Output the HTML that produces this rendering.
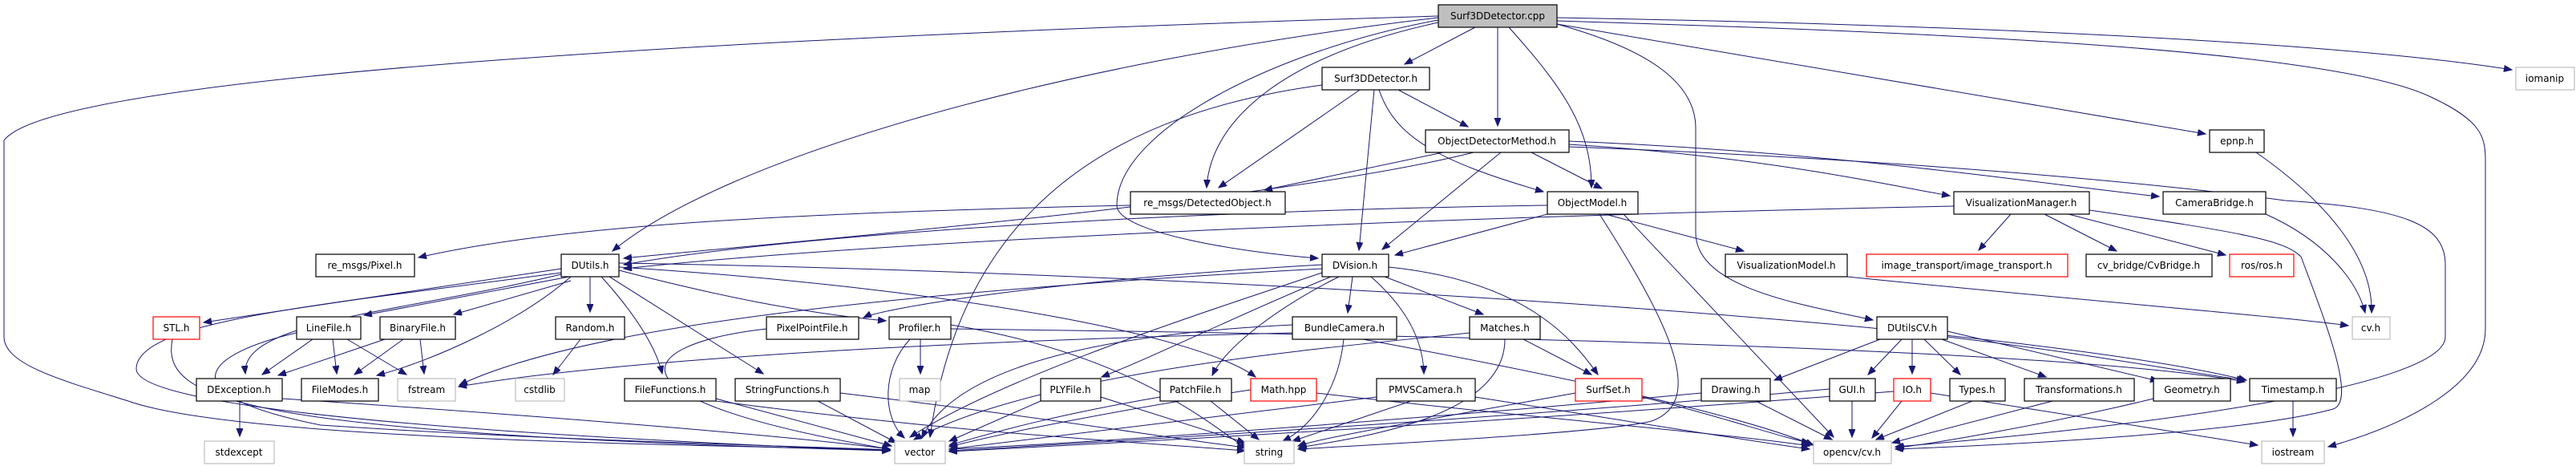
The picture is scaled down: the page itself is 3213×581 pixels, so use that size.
<!DOCTYPE html>
<html><head><meta charset="utf-8"><style>
html,body{margin:0;padding:0;background:#fff;}
svg{display:block;}
text{font-family:"DejaVu Sans","Liberation Sans",sans-serif;font-size:12px;text-anchor:middle;fill:#000;}
.n{fill:#fff;stroke:#000;stroke-width:1.2;}
.g{fill:#fff;stroke:#bfbfbf;stroke-width:1.2;}
.r{fill:#fff;stroke:#ff0000;stroke-width:1.2;}
.e path{fill:none;stroke:#191970;stroke-width:1;marker-end:url(#a);}
</style></head><body>
<svg width="3213" height="581" viewBox="0 0 3213 581" xmlns="http://www.w3.org/2000/svg">
<defs><marker id="a" markerUnits="userSpaceOnUse" markerWidth="12" markerHeight="10" refX="10" refY="4" orient="auto"><path d="M0,0 L10,4 L0,8 z" fill="#191970" stroke="#191970"/></marker></defs>
<g class="e">
<path d="M1840,34 L1752,80"/>
<path d="M1868,34 L1868,157"/>
<path d="M1882,34 C1950,110 1985,160 1985,234"/>
<path d="M1794,28 C1600,70 1510,150 1505,234"/>
<path d="M1794,25 C1600,60 1393,160 1393,256 C1393,290 1550,315 1644,322"/>
<path d="M1794,22 C1300,80 900,200 764,313"/>
<path d="M1794,20 C800,50 60,100 5,175 L5,420 C5,455 80,475 160,500 C300,550 900,555 1110,561"/>
<path d="M1942,30 C2050,60 2115,100 2115,160 L2115,290 C2115,360 2250,380 2336,399"/>
<path d="M1942,30 C2300,90 2600,140 2751,167"/>
<path d="M1942,22 C2400,30 2900,50 3133,87"/>
<path d="M1942,26 C2400,40 2900,60 3030,120 C3095,150 3100,170 3100,200 L3100,410 C3100,480 3000,530 2904,557"/>
<path d="M1696,112 L1520,234"/>
<path d="M1714,112 L1695,312"/>
<path d="M1744,112 L1831,158"/>
<path d="M1720,112 C1740,170 1790,200 1925,239"/>
<path d="M1649,106 C1400,140 1200,250 1160,545"/>
<path d="M1800,190 L1577,237"/>
<path d="M1838,190 C1600,250 1000,300 778,322"/>
<path d="M1872,190 L1724,311"/>
<path d="M1910,190 L1998,235"/>
<path d="M1957,180 C2200,195 2350,230 2432,244"/>
<path d="M1957,176 C2300,190 2550,230 2693,245"/>
<path d="M1957,183 C2400,200 2700,230 2850,250 C3000,260 3050,280 3050,330 L3050,420 C3050,480 2700,530 2364,557"/>
<path d="M1930,267 L1740,318"/>
<path d="M1930,256 C1500,262 1000,290 778,330"/>
<path d="M2002,267 L2175,313"/>
<path d="M1995,267 C2080,400 2130,500 2060,525 C2000,540 1700,555 1619,560"/>
<path d="M2025,267 L2287,545"/>
<path d="M1410,256 C1000,265 700,280 522,321"/>
<path d="M2508,267 L2468,312"/>
<path d="M2550,267 L2640,313"/>
<path d="M2580,267 L2776,318"/>
<path d="M2606,262 C2800,290 2850,300 2870,320 C2900,400 2940,500 2910,510 C2800,540 2500,555 2364,560"/>
<path d="M2437,257 C1800,270 1100,300 778,335"/>
<path d="M2304,345 C2600,375 2850,395 2929,406"/>
<path d="M2826,267 C2900,300 2940,350 2950,390"/>
<path d="M2814,190 C2900,250 2960,320 2958,390"/>
<path d="M700,335 L254,402"/>
<path d="M710,345 L454,393"/>
<path d="M712,350 L566,392"/>
<path d="M700,342 C500,390 300,400 306,466"/>
<path d="M712,345 C650,400 540,450 470,468"/>
<path d="M736,345 L736,389"/>
<path d="M750,345 C800,400 820,440 826,466"/>
<path d="M760,345 L952,466"/>
<path d="M772,337 C900,370 1000,390 1105,400"/>
<path d="M772,333 C1200,360 1500,420 1566,470"/>
<path d="M772,328 C1500,340 2500,400 2802,474"/>
<path d="M700,340 C400,380 170,400 170,460 C170,520 800,550 1110,562"/>
<path d="M215,423 C200,500 300,540 1110,562"/>
<path d="M390,423 L327,467"/>
<path d="M415,423 L420,466"/>
<path d="M433,423 L507,467"/>
<path d="M370,415 C260,440 200,490 400,530 C700,550 1000,556 1110,561"/>
<path d="M480,423 L347,468"/>
<path d="M503,423 L442,467"/>
<path d="M524,423 L529,466"/>
<path d="M724,423 L690,467"/>
<path d="M299,500 L299,544"/>
<path d="M352,497 C700,520 1000,545 1110,560"/>
<path d="M956,410 C780,430 750,500 1110,560"/>
<path d="M1148,423 L1148,466"/>
<path d="M1135,423 C1100,460 1100,520 1128,546"/>
<path d="M1186,405 C1400,440 1500,520 1555,560"/>
<path d="M1186,410 C2000,420 2600,440 2800,476"/>
<path d="M893,497 L1112,556"/>
<path d="M893,500 C1200,540 1400,550 1553,562"/>
<path d="M1020,500 L1118,552"/>
<path d="M1048,490 C1300,520 1450,545 1553,558"/>
<path d="M1649,330 C1300,350 1100,385 1077,396"/>
<path d="M1687,345 L1681,390"/>
<path d="M1727,345 L1850,392"/>
<path d="M1710,345 C1750,380 1775,420 1776,466"/>
<path d="M1732,333 C1900,350 1960,420 1993,467"/>
<path d="M1660,345 C1550,390 1450,440 1374,470"/>
<path d="M1670,345 C1600,380 1530,430 1512,468"/>
<path d="M1649,340 C1500,390 1250,470 1135,545"/>
<path d="M1649,335 C1000,370 700,420 573,480"/>
<path d="M1612,405 C1300,420 1180,480 1150,546"/>
<path d="M1676,423 C1670,480 1640,530 1600,550"/>
<path d="M1700,423 C1900,460 2150,510 2262,555"/>
<path d="M1612,415 C1000,430 700,460 572,482"/>
<path d="M1833,415 C1700,430 1300,460 1140,548"/>
<path d="M1877,423 C1877,520 1700,545 1620,558"/>
<path d="M1900,423 L1985,467"/>
<path d="M2345,423 L2213,474"/>
<path d="M2372,423 L2330,467"/>
<path d="M2385,423 L2385,466"/>
<path d="M2400,423 L2445,467"/>
<path d="M2422,423 L2552,470"/>
<path d="M2429,413 L2692,475"/>
<path d="M2429,420 C2600,440 2700,460 2800,474"/>
<path d="M2190,500 L2285,548"/>
<path d="M2122,490 C1800,520 1400,550 1184,560"/>
<path d="M2310,500 L2310,545"/>
<path d="M2282,485 C1900,520 1400,550 1184,562"/>
<path d="M2372,500 L2335,546"/>
<path d="M2362,488 C1900,525 1400,552 1184,563"/>
<path d="M2408,490 C2600,520 2750,545 2816,555"/>
<path d="M2460,500 L2340,548"/>
<path d="M2560,500 L2360,552"/>
<path d="M2686,497 C2550,530 2400,555 2365,558"/>
<path d="M2860,500 L2860,544"/>
<path d="M1642,490 C1900,520 2150,540 2257,556"/>
<path d="M1560,486 C1400,510 1250,540 1184,557"/>
<path d="M1717,495 C1500,520 1300,545 1184,560"/>
<path d="M1760,500 L1612,550"/>
<path d="M1840,495 C2000,520 2150,545 2257,560"/>
<path d="M1965,490 C1800,520 1650,545 1619,556"/>
<path d="M2048,495 C2150,520 2220,545 2257,552"/>
<path d="M1298,500 L1184,550"/>
<path d="M1373,495 L1553,552"/>
<path d="M1447,495 C1300,520 1220,545 1184,555"/>
<path d="M1510,500 L1570,548"/>
</g>
<g>
<rect x="1794" y="6" width="148" height="28" fill="#bfbfbf" stroke="#000" stroke-width="1.2"/><text x="1868" y="24">Surf3DDetector.cpp</text>
<rect class="n" x="1649" y="84" width="134" height="28"/><text x="1716" y="102">Surf3DDetector.h</text>
<rect class="g" x="3138" y="84" width="73" height="28"/><text x="3174" y="102">iomanip</text>
<rect class="n" x="1778" y="162" width="179" height="28"/><text x="1867" y="180">ObjectDetectorMethod.h</text>
<rect class="n" x="2756" y="162" width="68" height="28"/><text x="2790" y="180">epnp.h</text>
<rect class="n" x="1410" y="239" width="193" height="28"/><text x="1506" y="257">re_msgs/DetectedObject.h</text>
<rect class="n" x="1930" y="239" width="113" height="28"/><text x="1986" y="257">ObjectModel.h</text>
<rect class="n" x="2437" y="239" width="169" height="28"/><text x="2521" y="257">VisualizationManager.h</text>
<rect class="n" x="2698" y="239" width="128" height="28"/><text x="2762" y="257">CameraBridge.h</text>
<rect class="n" x="394" y="317" width="123" height="28"/><text x="455" y="335">re_msgs/Pixel.h</text>
<rect class="n" x="700" y="317" width="72" height="28"/><text x="736" y="335">DUtils.h</text>
<rect class="n" x="1649" y="317" width="83" height="28"/><text x="1690" y="335">DVision.h</text>
<rect class="n" x="2152" y="317" width="152" height="28"/><text x="2228" y="335">VisualizationModel.h</text>
<rect class="r" x="2328" y="317" width="251" height="28"/><text x="2453" y="335">image_transport/image_transport.h</text>
<rect class="n" x="2602" y="317" width="157" height="28"/><text x="2680" y="335">cv_bridge/CvBridge.h</text>
<rect class="r" x="2781" y="317" width="80" height="28"/><text x="2821" y="335">ros/ros.h</text>
<rect class="r" x="191" y="395" width="58" height="28"/><text x="220" y="413">STL.h</text>
<rect class="n" x="370" y="395" width="80" height="28"/><text x="410" y="413">LineFile.h</text>
<rect class="n" x="474" y="395" width="94" height="28"/><text x="521" y="413">BinaryFile.h</text>
<rect class="n" x="693" y="395" width="86" height="28"/><text x="736" y="413">Random.h</text>
<rect class="n" x="956" y="395" width="115" height="28"/><text x="1013" y="413">PixelPointFile.h</text>
<rect class="n" x="1109" y="395" width="77" height="28"/><text x="1147" y="413">Profiler.h</text>
<rect class="n" x="1612" y="395" width="130" height="28"/><text x="1677" y="413">BundleCamera.h</text>
<rect class="n" x="1833" y="395" width="88" height="28"/><text x="1877" y="413">Matches.h</text>
<rect class="n" x="2341" y="395" width="88" height="28"/><text x="2385" y="413">DUtilsCV.h</text>
<rect class="g" x="2934" y="395" width="47" height="28"/><text x="2957" y="413">cv.h</text>
<rect class="n" x="245" y="472" width="107" height="28"/><text x="298" y="490">DException.h</text>
<rect class="n" x="376" y="472" width="96" height="28"/><text x="424" y="490">FileModes.h</text>
<rect class="g" x="496" y="472" width="72" height="28"/><text x="532" y="490">fstream</text>
<rect class="g" x="643" y="472" width="61" height="28"/><text x="673" y="490">cstdlib</text>
<rect class="n" x="779" y="472" width="114" height="28"/><text x="836" y="490">FileFunctions.h</text>
<rect class="n" x="917" y="472" width="131" height="28"/><text x="982" y="490">StringFunctions.h</text>
<rect class="g" x="1122" y="472" width="51" height="28"/><text x="1147" y="490">map</text>
<rect class="n" x="1298" y="472" width="75" height="28"/><text x="1335" y="490">PLYFile.h</text>
<rect class="n" x="1447" y="472" width="89" height="28"/><text x="1491" y="490">PatchFile.h</text>
<rect class="r" x="1560" y="472" width="82" height="28"/><text x="1601" y="490">Math.hpp</text>
<rect class="n" x="1717" y="472" width="123" height="28"/><text x="1778" y="490">PMVSCamera.h</text>
<rect class="r" x="1965" y="472" width="83" height="28"/><text x="2006" y="490">SurfSet.h</text>
<rect class="n" x="2122" y="472" width="86" height="28"/><text x="2165" y="490">Drawing.h</text>
<rect class="n" x="2282" y="472" width="57" height="28"/><text x="2310" y="490">GUI.h</text>
<rect class="r" x="2362" y="472" width="46" height="28"/><text x="2385" y="490">IO.h</text>
<rect class="n" x="2432" y="472" width="69" height="28"/><text x="2466" y="490">Types.h</text>
<rect class="n" x="2525" y="472" width="137" height="28"/><text x="2593" y="490">Transformations.h</text>
<rect class="n" x="2686" y="472" width="96" height="28"/><text x="2734" y="490">Geometry.h</text>
<rect class="n" x="2806" y="472" width="108" height="28"/><text x="2860" y="490">Timestamp.h</text>
<rect class="g" x="255" y="550" width="87" height="28"/><text x="298" y="568">stdexcept</text>
<rect class="g" x="1116" y="550" width="63" height="28"/><text x="1147" y="568">vector</text>
<rect class="g" x="1552" y="550" width="62" height="28"/><text x="1583" y="568">string</text>
<rect class="g" x="2262" y="550" width="97" height="28"/><text x="2310" y="568">opencv/cv.h</text>
<rect class="g" x="2821" y="550" width="78" height="28"/><text x="2860" y="568">iostream</text>
</g>
</svg>
</body></html>
